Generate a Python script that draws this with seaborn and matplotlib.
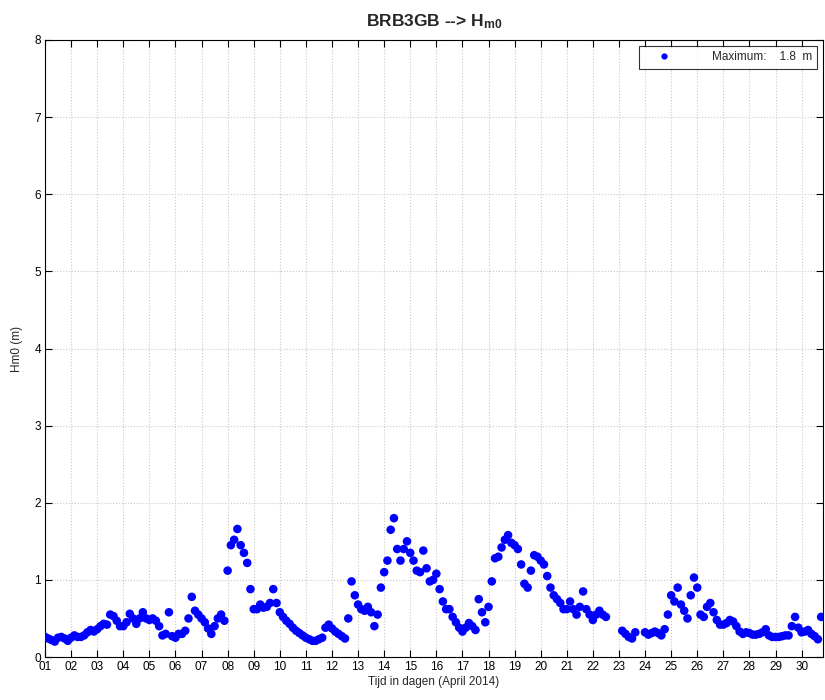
import numpy as np
import pandas as pd
import matplotlib
matplotlib.use("Agg")
import matplotlib.pyplot as plt
from matplotlib.lines import Line2D
import seaborn as sns

# ---- data: 3-hourly Hm0 values (m), April 2014, starting 01 00:00 ----
start_day = 1
step_hours = 3
nan = np.nan
hm0 = [
    0.26, 0.24, 0.22, 0.20, 0.25, 0.26, 0.24, 0.21,   # 01
    0.25, 0.28, 0.26, 0.26, 0.28, 0.32, 0.35, 0.33,   # 02
    0.36, 0.40, 0.43, 0.42, 0.55, 0.53, 0.47, 0.40,   # 03
    0.40, 0.45, 0.56, 0.50, 0.43, 0.50, 0.58, 0.50,   # 04
    0.48, 0.50, 0.47, 0.40, 0.28, 0.30, 0.58, 0.27,   # 05
    0.25, 0.30, 0.30, 0.34, 0.50, 0.78, 0.60, 0.55,   # 06
    0.50, 0.45, 0.37, 0.30, 0.40, 0.50, 0.55, 0.47,   # 07
    1.12, 1.45, 1.52, 1.66, 1.45, 1.35, 1.22, 0.88,   # 08
    0.62, 0.62, 0.68, 0.64, 0.65, 0.70, 0.88, 0.70,   # 09
    0.58, 0.52, 0.47, 0.43, 0.38, 0.34, 0.31, 0.28,   # 10
    0.25, 0.23, 0.21, 0.21, 0.23, 0.25, 0.38, 0.42,   # 11
    0.37, 0.33, 0.30, 0.27, 0.24, 0.50, 0.98, 0.80,   # 12
    0.68, 0.62, 0.60, 0.65, 0.58, 0.40, 0.55, 0.90,   # 13
    1.10, 1.25, 1.65, 1.80, 1.40, 1.25, 1.40, 1.50,   # 14
    1.35, 1.25, 1.12, 1.10, 1.38, 1.15, 0.98, 1.00,   # 15
    1.08, 0.88, 0.72, 0.62, 0.62, 0.52, 0.45, 0.38,   # 16
    0.33, 0.38, 0.44, 0.40, 0.35, 0.75, 0.58, 0.45,   # 17
    0.65, 0.98, 1.28, 1.30, 1.42, 1.52, 1.58, 1.48,   # 18
    1.45, 1.40, 1.20, 0.95, 0.90, 1.12, 1.32, 1.30,   # 19
    1.25, 1.20, 1.05, 0.90, 0.80, 0.75, 0.70, 0.62,   # 20
    0.62, 0.72, 0.62, 0.55, 0.65, 0.85, 0.62, 0.55,   # 21
    0.48, 0.55, 0.60, 0.55, 0.52, nan, nan, nan,      # 22
    nan, 0.34, 0.30, 0.26, 0.24, 0.32, nan, nan,      # 23
    0.32, 0.29, 0.31, 0.33, 0.31, 0.28, 0.36, 0.55,   # 24
    0.80, 0.72, 0.90, 0.68, 0.60, 0.50, 0.80, 1.03,   # 25
    0.90, 0.55, 0.52, 0.65, 0.70, 0.58, 0.48, 0.42,   # 26
    0.42, 0.44, 0.48, 0.46, 0.40, 0.33, 0.30, 0.32,   # 27
    0.31, 0.29, 0.29, 0.30, 0.32, 0.36, 0.28, 0.26,   # 28
    0.26, 0.26, 0.27, 0.28, 0.28, 0.40, 0.52, 0.38,   # 29
    0.32, 0.33, 0.35, 0.30, 0.27, 0.23, 0.52,         # 30
]
day_ticks = list(range(1, 31))
day_labels = [f"{d:02d}" for d in day_ticks]
y_ticks = [0, 1, 2, 3, 4, 5, 6, 7, 8]
title_station = "BRB3GB"
legend_text = "Maximum:    1.8  m"

t = start_day + np.arange(len(hm0)) * step_hours / 24.0
df = pd.DataFrame({"t": t, "hm0": hm0}).dropna()

sns.set_theme(style="white")
plt.rcParams["font.family"] = ["Liberation Sans", "DejaVu Sans"]
plt.rcParams["mathtext.fontset"] = "custom"
plt.rcParams["mathtext.rm"] = "Liberation Sans:bold"
plt.rcParams["mathtext.it"] = "Liberation Sans:bold"
plt.rcParams["mathtext.bf"] = "Liberation Sans:bold"

fig = plt.figure(figsize=(8.25, 7.0), dpi=100)
ax = fig.add_axes([45 / 825, 1 - 657 / 700, (823 - 45) / 825, (657 - 40) / 700])

sns.scatterplot(data=df, x="t", y="hm0", ax=ax, color="#0000FF", s=38,
                linewidth=0, edgecolor="none", legend=False, zorder=3)

ax.set_xlim(1, 30.82)
ax.set_ylim(0, 8)
ax.set_xticks(day_ticks)
ax.set_xticklabels(day_labels)
ax.set_yticks(y_ticks)
ax.grid(True, color="#c8c8c8", linestyle=":", linewidth=0.8)
ax.set_axisbelow(True)
for sp in ax.spines.values():
    sp.set_color("black")
    sp.set_linewidth(0.8)
ax.tick_params(axis="both", direction="in", length=5, width=0.8, colors="black",
               labelsize=8.5, top=True, right=True, bottom=True, left=True,
               labeltop=False, labelright=False, pad=3)

ax.set_xlabel("Tijd in dagen (April 2014)", fontsize=8.5, labelpad=2)
ax.set_ylabel("Hm0 (m)", fontsize=8.5, labelpad=8)
ax.set_title(title_station + r" --> H$_{\mathbf{m0}}$", fontsize=12.5,
             fontweight="bold", pad=10)

handle = Line2D([], [], linestyle="none", marker="o", color="#0000FF",
                markersize=4.5, markeredgewidth=0)
leg = ax.legend([handle], [legend_text], loc="upper right", fontsize=8.5,
                frameon=True, fancybox=False, edgecolor="black",
                borderpad=0.45, handletextpad=2.3, handlelength=3.4,
                borderaxespad=0.5)
leg.get_frame().set_linewidth(0.8)

fig.savefig("out.png", dpi=100)
